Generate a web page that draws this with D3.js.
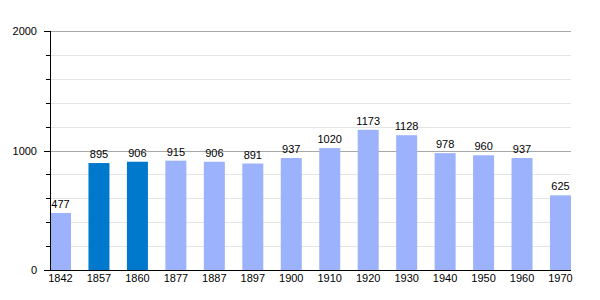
<!DOCTYPE html>
<html><head><meta charset="utf-8">
<script src="https://cdn.jsdelivr.net/npm/d3@7"></script>
<style>body{margin:0;background:#fff}svg{display:block}text{font-family:"Liberation Sans",Arial,sans-serif}</style>
</head><body><svg id="c" width="600" height="300"></svg>
<script>
const years = ["1842","1857","1860","1877","1887","1897","1900","1910","1920","1930","1940","1950","1960","1970"];
const population = [477,895,906,915,906,891,937,1020,1173,1128,978,960,937,625];
const highlighted = ["1857","1860"];
const majorTicks = [0,1000,2000];
const minorTicks = [200,400,600,800,1200,1400,1600,1800];

(function(){
const svg = d3.select("#c");
const pl = 50, pr = 571, pt = 31, pb = 270;
const bw = 21;
const y = d3.scaleLinear().domain([0,2000]).range([pb, pt]);
const xb = d3.scalePoint().domain(years).range([pl, pr - bw]);

svg.append("g").selectAll("line").data(minorTicks).join("line")
  .attr("x1", pl).attr("x2", pr).attr("y1", d=>Math.round(y(d))+0.5).attr("y2", d=>Math.round(y(d))+0.5)
  .attr("stroke", "#e4e4e4").attr("stroke-width",1);
svg.append("g").selectAll("line").data([1000,2000]).join("line")
  .attr("x1", pl).attr("x2", pr).attr("y1", d=>Math.round(y(d))+0.5).attr("y2", d=>Math.round(y(d))+0.5)
  .attr("stroke", "#a8a8a8").attr("stroke-width",1);

svg.append("g").selectAll("rect").data(years).join("rect")
  .attr("x", d=>xb(d)).attr("width", bw)
  .attr("y", (d,i)=>y(population[i])).attr("height", (d,i)=>pb - y(population[i]))
  .attr("fill", d=>highlighted.includes(d) ? "#0079cc" : "#9db2fc");

svg.append("g").selectAll("text").data(years).join("text")
  .attr("x", d=>xb(d)+bw/2).attr("y", (d,i)=>y(population[i]) - 5)
  .attr("text-anchor","middle").attr("font-size",11).attr("fill","#000")
  .text((d,i)=>population[i]);

svg.append("g").selectAll("text").data(years).join("text")
  .attr("x", d=>xb(d)+bw/2).attr("y", 282)
  .attr("text-anchor","middle").attr("font-size",11).attr("fill","#000")
  .text(d=>d);

svg.append("g").selectAll("line").data(minorTicks).join("line")
  .attr("x1", pl-4).attr("x2", pl).attr("y1", d=>Math.round(y(d))+0.5).attr("y2", d=>Math.round(y(d))+0.5)
  .attr("stroke","#000");
svg.append("g").selectAll("line").data(majorTicks).join("line")
  .attr("x1", pl-6).attr("x2", pl).attr("y1", d=>Math.round(y(d))+0.5).attr("y2", d=>Math.round(y(d))+0.5)
  .attr("stroke","#000");
svg.append("g").selectAll("text").data(majorTicks).join("text")
  .attr("x", 37).attr("y", d=>y(d)+4).attr("text-anchor","end").attr("font-size",11).attr("fill","#000")
  .text(d=>d);

svg.append("line").attr("x1",pl+0.5).attr("x2",pl+0.5).attr("y1",pt).attr("y2",pb+1).attr("stroke","#000");
svg.append("line").attr("x1",pl).attr("x2",pr).attr("y1",pb+0.5).attr("y2",pb+0.5).attr("stroke","#000");
})();
</script></body></html>
